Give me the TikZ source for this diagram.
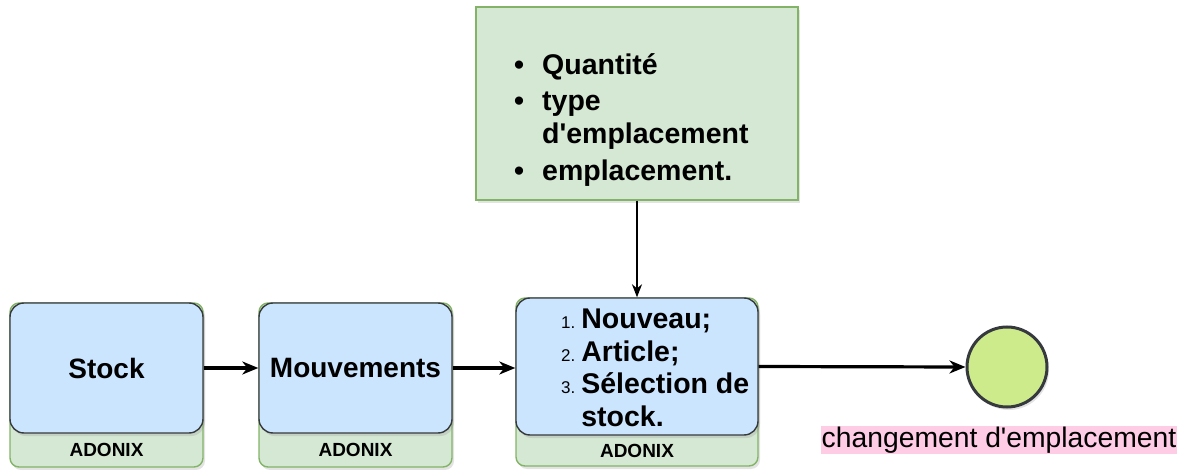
\documentclass[tikz,border=0pt]{standalone}
\usepackage{fontspec}
\setmainfont{Liberation Sans}
\usetikzlibrary{arrows.meta,shadows}
\definecolor{boxblue}{HTML}{CCE5FF}
\definecolor{boxgreen}{HTML}{D5E8D4}
\definecolor{greenline}{HTML}{82B366}
\definecolor{darkline}{HTML}{36393D}
\definecolor{endfill}{HTML}{CDEB8B}
\definecolor{labelpink}{HTML}{FFCCE6}
\tikzset{
  shade/.style={drop shadow={opacity=0.22,shadow xshift=2pt,shadow yshift=-3pt}},
  bluebox/.style={draw=darkline,fill=boxblue,line width=1.4pt,rounded corners=14pt,
    shade,font=\fontsize{28}{32}\selectfont\bfseries,inner sep=0pt},
  greenbase/.style={draw=greenline,fill=boxgreen,line width=1.4pt,rounded corners=9pt,shade},
  tag/.style={font=\fontsize{19}{21}\selectfont\bfseries,inner sep=0pt},
  flow/.style={line width=3.2pt,-{Stealth[length=16pt,width=13pt,inset=5pt]}},
  thin flow/.style={line width=1.4pt,-{Stealth[length=13pt,width=10pt,inset=4pt]}},
}
\begin{document}
\begin{tikzpicture}[x=1pt,y=-1pt]
\useasboundingbox (0,0) rectangle (1192,470);

% green bases carrying the ADONIX tag
\node[greenbase,minimum width=193pt,minimum height=164pt] (g1) at (106.5,385) {};
\node[greenbase,minimum width=193pt,minimum height=164pt] (g2) at (355.5,385) {};
\node[greenbase,minimum width=242pt,minimum height=168pt] (g3) at (637,382) {};

% blue process boxes
\node[bluebox,minimum width=193pt,minimum height=130pt] (stock) at (106.5,368) {Stock};
\node[bluebox,minimum width=193pt,minimum height=130pt] (mouv) at (355.5,368) {Mouvements};
\node[bluebox,minimum width=242pt,minimum height=137pt] (sel) at (637,366.5) {};

\node[tag] (t1) at (106.5,450) {ADONIX};
\node[tag] (t2) at (355.5,450) {ADONIX};
\node[tag] (t3) at (637,451) {ADONIX};

% numbered steps inside the selection box
\node[anchor=west,inner sep=0pt,align=left] (steps) at (561,371) {%
  \fontsize{28.5}{32.5}\selectfont\bfseries
  \begin{tabular}{@{}r@{\hspace{6pt}}l@{}}
  {\mdseries\fontsize{17}{18}\selectfont 1.} & Nouveau;\\
  {\mdseries\fontsize{17}{18}\selectfont 2.} & Article;\\
  {\mdseries\fontsize{17}{18}\selectfont 3.} & Sélection de\\
   & stock.
  \end{tabular}};

% parameter note
\node[draw=greenline,fill=boxgreen,line width=1.4pt,shade,
      minimum width=322pt,minimum height=193pt] (info) at (637,103.5) {};
\node[anchor=west,inner sep=0pt,align=left] (infotext) at (514,121) {%
  \fontsize{28.5}{33}\selectfont\bfseries
  \begin{tabular}{@{}c@{\hspace{18pt}}l@{}}
  \textbullet & Quantité\\[3pt]
  \textbullet & type\\
   & d\textquotesingle emplacement\\[4pt]
  \textbullet & emplacement.
  \end{tabular}};

% end event
\node[circle,draw=darkline,fill=endfill,line width=3pt,minimum size=80pt,shade] (fin) at (1007,367) {};
\node[fill=labelpink,inner xsep=1pt,inner ysep=1pt,font=\fontsize{28.3}{30}\selectfont] (lab) at (999,440) {changement d\textquotesingle emplacement};

% connectors
\draw[flow] (stock.east) -- (mouv.west);
\draw[flow] (mouv.east) -- (sel.west |- mouv.east);
\draw[flow] (sel.east) -- (fin.west);
\draw[thin flow] (info.south) -- (sel.north);
\end{tikzpicture}
\end{document}
